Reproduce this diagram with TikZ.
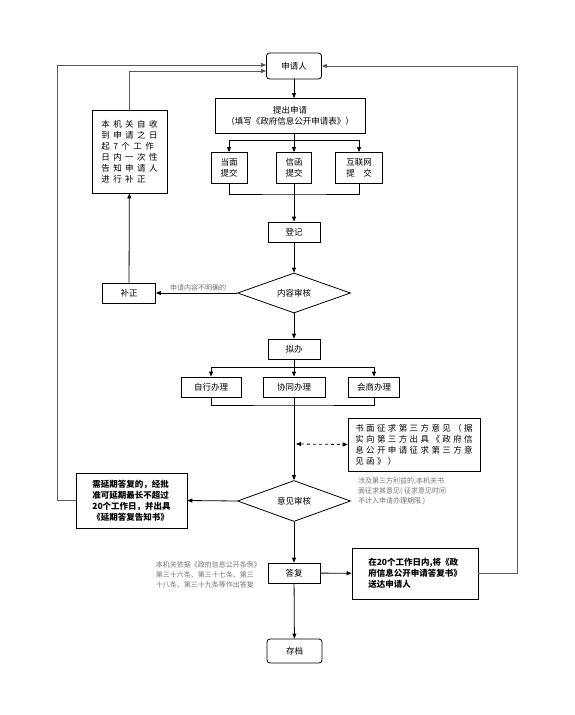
\documentclass[tikz,border=0pt]{standalone}
\usepackage{fontspec}
\newfontfamily\cjk{Noto Sans CJK SC}
\newfontfamily\cjkw{Noto Sans CJK SC}[LetterSpace=40]
\newfontfamily\cjkm{Noto Sans CJK SC}[LetterSpace=28]
\usetikzlibrary{arrows.meta,shapes.geometric}
\begin{document}
\begin{tikzpicture}[x=1pt,y=-1pt,
  font=\cjk\fontsize{8.5}{11}\selectfont,
  >={Triangle[length=5pt,width=4pt]},
  box/.style={draw,line width=0.8pt,inner sep=2pt,align=center},
  rbox/.style={box,rounded corners=3pt},
  wbox/.style={box,align=left,font=\cjkw\fontsize{8.5}{11}\selectfont},
  check/.style={draw,line width=0.8pt,diamond,aspect=2.8,inner sep=0pt,minimum width=113pt},
  note/.style={text=black!55,font=\cjk\fontsize{7}{10}\selectfont,align=left,inner sep=1pt},
  link/.style={line width=0.8pt},
  back/.style={line width=1pt,black!65}]
  \useasboundingbox (0,0) rectangle (575,715);
  % top part
  \node[rbox,minimum width=55pt,minimum height=26pt] (app) at (294,66) {申请人};
  \node[box,minimum width=150pt,minimum height=35pt] (submit) at (290,116)
    {提出申请\\（填写《政府信息公开申请表》）};
  \node[box,minimum width=36pt,minimum height=31pt] (face) at (229,168) {当面\\提交};
  \node[box,minimum width=35pt,minimum height=31pt] (letter) at (294,168) {信函\\提交};
  \node[box,minimum width=47pt,minimum height=31pt] (net) at (359,168) {互联网\\提\quad 交};
  \node[box,minimum width=52pt,minimum height=20pt] (reg) at (294,232) {登记};
  \node[check,minimum height=40pt] (check1) at (294,293) {内容审核};
  \node[box,minimum width=53pt,minimum height=20pt] (fix) at (129,293) {补正};
  \node[wbox,minimum width=75pt,minimum height=83pt] (notify) at (129.5,151.5)
    {本机关自收\\到申请之日\\起7个工作\\日内一次性\\告知申请人\\进行补正};
  % middle part
  \node[box,minimum width=52pt,minimum height=20pt] (draft) at (294,349) {拟办};
  \node[box,minimum width=60pt,minimum height=20pt] (self) at (211,387) {自行办理};
  \node[box,minimum width=62pt,minimum height=20pt] (joint) at (294,387) {协同办理};
  \node[box,minimum width=51pt,minimum height=20pt] (consult) at (374,387) {会商办理};
  \node[wbox,minimum width=132pt,minimum height=53pt,font=\cjkm\fontsize{8.5}{11}\selectfont] (ask) at (414,444.5)
    {书面征求第三方意见（据\\实向第三方出具《政府信\\息公开申请征求第三方意\\见函》）};
  \node[note,anchor=north west] (asknote) at (357,476)
    {涉及第三方利益的,本机关书\\面征求其意见( 征求意见时间\\不计入申请办理期限 )};
  \node[check,minimum height=41pt] (check2) at (294,501) {意见审核};
  \node[wbox,minimum width=111pt,minimum height=55pt,font=\cjk\bfseries\fontsize{8.5}{11}\selectfont] (delay) at (131.5,500.5)
    {需延期答复的，经批\\准可延期最长不超过\\20个工作日，并出具\\《延期答复告知书》};
  % bottom part
  \node[box,minimum width=52pt,minimum height=20pt] (reply) at (294,573) {答复};
  \node[note,anchor=east] (replynote) at (262,575)
    {本机关依据《政府信息公开条例》\\第三十六条、第三十七条、第三\\十八条、第三十九条等作出答复};
  \node[wbox,minimum width=126pt,minimum height=51pt,font=\cjk\bfseries\fontsize{8.5}{11}\selectfont] (send) at (415,573.5)
    {在20个工作日内,将《政\\府信息公开申请答复书》\\送达申请人};
  \node[rbox,minimum width=55pt,minimum height=24pt] (archive) at (294.5,651) {存档};
  % main line
  \coordinate (b1) at (294,140);
  \coordinate (j1) at (294,194);
  \coordinate (b2) at (294,367);
  \coordinate (j2) at (294,405);
  \draw[link,->] (app) -- (app.south |- submit.north);
  \draw[link] (app.south |- submit.south) -- (b1);
  \draw[link,->] (b1) -| (face.north);
  \draw[link,->] (b1) -- (letter.north);
  \draw[link,->] (b1) -| (net.north);
  \draw[link] (face.south) |- (j1) -| (net.south);
  \draw[link] (letter.south) -- (j1);
  \draw[link,->] (j1) -- (reg.north);
  \draw[link,->] (reg) -- (check1);
  \draw[link,->] (check1) -- (draft);
  \draw[link] (draft) -- (b2);
  \draw[link,->] (b2) -| (self.north);
  \draw[link,->] (b2) -- (joint.north);
  \draw[link,->] (b2) -| (consult.north);
  \draw[link] (self.south) |- (j2) -| (consult.south);
  \draw[link] (joint.south) -- (j2);
  \draw[link,->] (j2) -- (check2.north);
  \draw[link,->] (check2) -- (reply);
  \draw[link,->] (reply) -- (archive);
  % side branches
  \draw[link,<->,dashed] (296,444) -- (ask.west);
  \draw[link,->] (check1.west) -- node[note,above,pos=0.48] {申请内容不明确的} (fix.east);
  \draw[link,->] (fix) -- (notify);
  \draw[link,->] (check2.west) -- (delay.east);
  \draw[link,->] (reply) -- (send);
  % back to applicant
  \draw[back,->] (notify.north) |- ([yshift=-5pt]app.west);
  \draw[back,->] (delay.west) -- ++(-18,0) |- ([yshift=1pt]app.west);
  \draw[back,->] (send.east) -- ++(39,0) |- (app.east);
\end{tikzpicture}
\end{document}
